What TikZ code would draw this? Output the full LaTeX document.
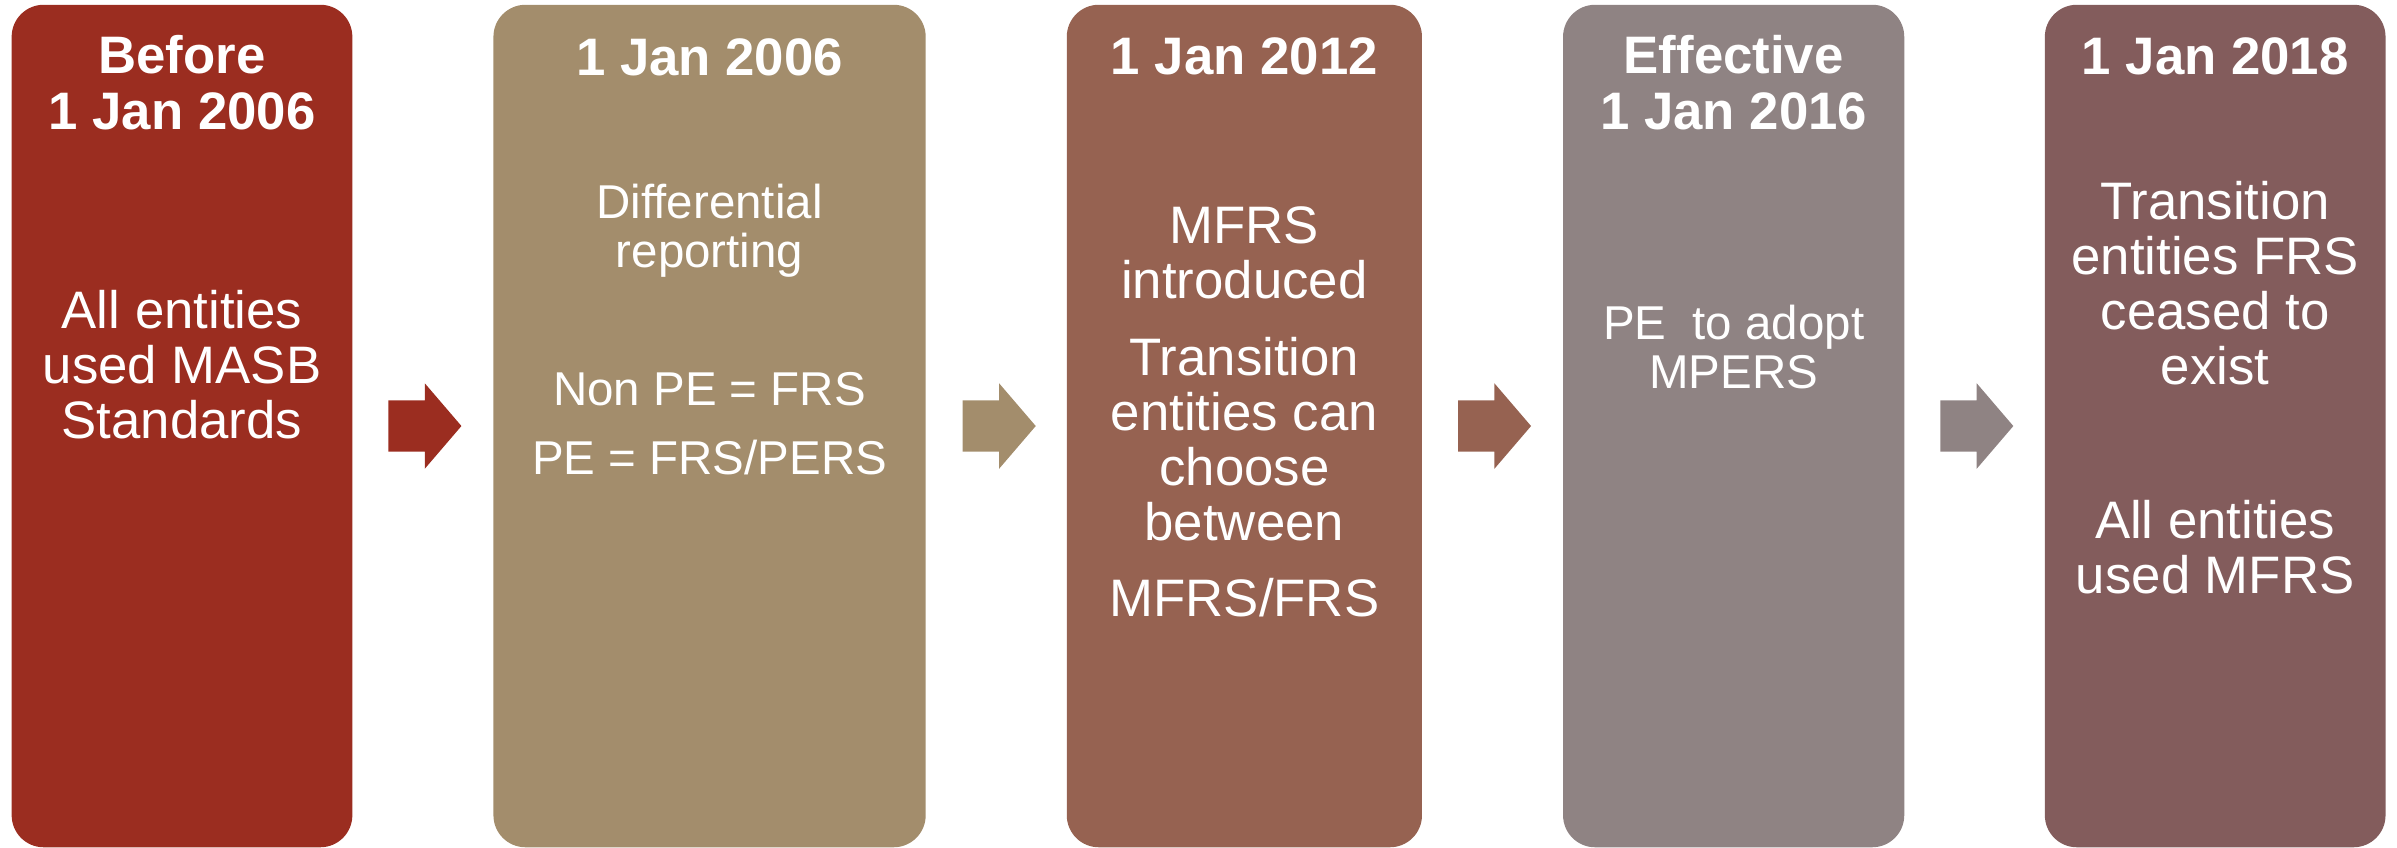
\documentclass[tikz,border=0pt]{standalone}
\usepackage{fontspec}
\setmainfont{Liberation Sans}
\usetikzlibrary{positioning,calc,shapes.arrows}

\definecolor{redbrown}{RGB}{155,45,32}
\definecolor{khaki}{RGB}{163,141,108}
\definecolor{clay}{RGB}{150,98,81}
\definecolor{greyish}{RGB}{143,131,131}
\definecolor{plum}{RGB}{131,92,92}

\tikzset{
  stage/.style={rectangle,rounded corners=0.32cm,minimum height=8.42cm,inner sep=0pt,outer sep=0pt},
  datetitle/.style={text=white,inner sep=0pt,align=center,anchor=base,
    font=\bfseries\fontsize{15}{15.8}\selectfont},
  bodytext/.style={text=white,inner sep=0pt,align=center,anchor=base,
    font=\fontsize{15}{15.6}\selectfont},
  smalltext/.style={bodytext,font=\fontsize{13.5}{13.9}\selectfont},
  blockarrow/.style={single arrow,inner xsep=0pt,inner ysep=0.25cm,outer sep=0pt,
    minimum height=0.73cm,single arrow head extend=0.17cm,anchor=tail,
    single arrow tip angle=98.8,single arrow head indent=0pt}
}

\begin{document}
\begin{tikzpicture}[x=0.01cm,y=-0.01cm]
    \useasboundingbox (0,0) rectangle (2397,847);
    \node (b1) [stage,fill=redbrown,minimum width=3.405cm] at (182,426) {};
    \node (b2) [stage,fill=khaki,minimum width=4.32cm,right=1.41cm of b1] {};
    \node (b3) [stage,fill=clay,minimum width=3.55cm,right=1.41cm of b2] {};
    \node (b4) [stage,fill=greyish,minimum width=3.41cm,right=1.41cm of b3] {};
    \node (b5) [stage,fill=plum,minimum width=3.405cm,right=1.405cm of b4] {};
    % arrows between the stages
    \node (arr1) [blockarrow,fill=redbrown] at ([xshift=0.36cm]b1.east) {};
    \node (arr2) [blockarrow,fill=khaki] at ([xshift=0.37cm]b2.east) {};
    \node (arr3) [blockarrow,fill=clay] at ([xshift=0.36cm]b3.east) {};
    \node (arr4) [blockarrow,fill=greyish] at ([xshift=0.36cm]b4.east) {};
    % dates (base = last line)
    \node (d1) [datetitle] at (b1.north |- 0,129) {Before\\1 Jan 2006};
    \node (d2) [datetitle] at (b2.north |- 0,75) {1 Jan 2006};
    \node (d3) [datetitle] at (b3.north |- 0,74) {1 Jan 2012};
    \node (d4) [datetitle] at (b4.north |- 0,129) {Effective\\1 Jan 2016};
    \node (d5) [datetitle] at (b5.north |- 0,74) {1 Jan 2018};
    % texts
    \node (t1) [bodytext] at (b1.north |- 0,438) {All entities\\used MASB\\Standards};
    \node (t2) [smalltext] at (b2.north |- 0,474) {Differential\\reporting\\[25.2pt]Non PE = FRS\\[5.7pt]PE = FRS/PERS};
    \node (t3) [bodytext] at (b3.north |- 0,616) {MFRS\\introduced\\[6.3pt]Transition\\entities can\\choose\\between\\[6pt]MFRS/FRS};
    \node (t4) [smalltext] at (b4.north |- 0,388) {PE\ \ to adopt\\MPERS};
    \node (t5) [bodytext] at (b5.north |- 0,593) {Transition\\entities FRS\\ceased to\\exist\\[28.2pt]All entities\\used MFRS};
\end{tikzpicture}
\end{document}
